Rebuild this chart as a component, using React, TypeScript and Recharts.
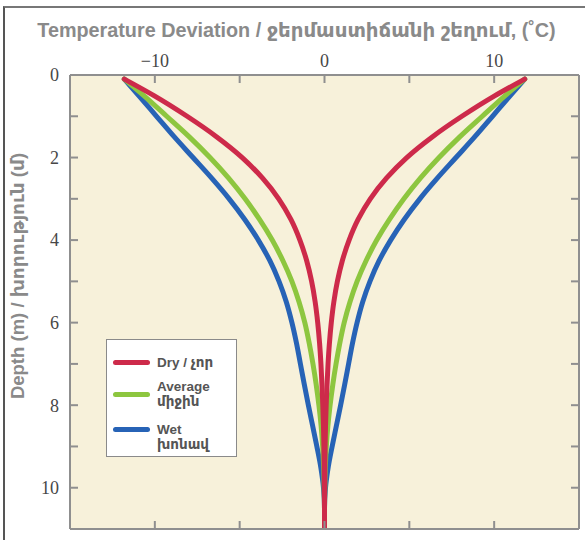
import React from 'react';
import { LineChart, Line, XAxis, YAxis, CartesianGrid, Legend } from 'recharts';

const depth = [0.1, 0.5, 1, 1.5, 2, 2.5, 3, 3.5, 4, 4.5, 5, 5.5, 6, 6.5, 7, 7.5, 8, 8.5, 9, 9.5, 10, 10.5, 11];
const dryRight = [11.8, 10.05, 8.1, 6.35, 4.85, 3.65, 2.7, 1.98, 1.45, 1.05, 0.76, 0.55, 0.4, 0.29, 0.21, 0.15, 0.1, 0.06, 0.035, 0.02, 0.01, 0, 0];
const dryLeft = [-11.8, -10.05, -8.1, -6.35, -4.85, -3.65, -2.7, -1.98, -1.45, -1.05, -0.76, -0.55, -0.4, -0.29, -0.21, -0.15, -0.1, -0.06, -0.035, -0.02, -0.01, 0, 0];
const avgRight = [11.8, 10.65, 9.3, 7.97, 6.75, 5.65, 4.68, 3.83, 3.08, 2.45, 1.92, 1.5, 1.16, 0.9, 0.68, 0.49, 0.33, 0.2, 0.11, 0.05, 0.02, 0, 0];
const avgLeft = [-11.8, -10.65, -9.3, -7.97, -6.75, -5.65, -4.68, -3.83, -3.08, -2.45, -1.92, -1.5, -1.16, -0.9, -0.68, -0.49, -0.33, -0.2, -0.11, -0.05, -0.02, 0, 0];
const wetRight = [11.8, 10.95, 9.9, 8.85, 7.75, 6.65, 5.62, 4.7, 3.9, 3.22, 2.68, 2.25, 1.92, 1.65, 1.42, 1.19, 0.95, 0.7, 0.45, 0.22, 0.06, 0, 0];
const wetLeft = [-11.8, -10.95, -9.9, -8.85, -7.75, -6.65, -5.62, -4.7, -3.9, -3.22, -2.68, -2.25, -1.92, -1.65, -1.42, -1.19, -0.95, -0.7, -0.45, -0.22, -0.06, 0, 0];

const xTicks = [-10, -5, 0, 5, 10];
const xLabels = [-10, 0, 10];
const yTicks = [0, 1, 2, 3, 4, 5, 6, 7, 8, 9, 10];
const yLabels = [0, 2, 4, 6, 8, 10];

const seriesNames = ['Dry / չոր', 'Average|միջին', 'Wet|խոնավ'];
const titleText = 'Temperature Deviation / ջերմաստիճանի շեղում, (˚C)';
const yTitle = 'Depth (m) / խորություն (մ)';

const RED = '#CD2A4A';
const GREEN = '#8DC63F';
const BLUE = '#2763B6';
const AXIS = '#8f8f8f';
const BG = '#F7F1DA';

const data = depth.map((d, i) => ({
  d,
  dryL: dryLeft[i], dryR: dryRight[i],
  avgL: avgLeft[i], avgR: avgRight[i],
  wetL: wetLeft[i], wetR: wetRight[i],
}));

const tickFont = { fontFamily: '"Liberation Serif", "Times New Roman", serif', fontSize: 18, fill: '#474747' };
const sansBold = '"Liberation Sans", Arial, "DejaVu Sans", sans-serif';

const legendItems = [
  { name: seriesNames[0], color: RED, mb: 9, align: 'center', lineTop: 0 },
  { name: seriesNames[1], color: GREEN, mb: 13, align: 'center', lineTop: 0 },
  { name: seriesNames[2], color: BLUE, mb: 0, align: 'flex-start', lineTop: 5 },
];

const LegendBox = () => (
  <div style={{ width: 131, height: 118, boxSizing: 'border-box', background: '#fff', border: '1.5px solid #8a8a8a', padding: '15px 0 0 6px', fontFamily: sansBold, fontWeight: 700, fontSize: 13.5, color: '#555', lineHeight: '15px' }}>
    {legendItems.map((it) => {
      const parts = it.name.split('|');
      return (
        <div key={it.name} style={{ display: 'flex', alignItems: it.align, marginBottom: it.mb }}>
          <div style={{ width: 37, height: 5, borderRadius: 3, background: it.color, marginRight: 7, marginTop: it.lineTop, flex: 'none' }} />
          <div>
            {parts.map((p) => (<div key={p}>{p}</div>))}
          </div>
        </div>
      );
    })}
  </div>
);

export default function App() {
  return (
    <div style={{ position: 'absolute', left: 0, top: 0, width: 585, height: 540, background: '#fff', overflow: 'hidden' }}>
      <div style={{ position: 'absolute', left: 3, top: 6, width: 700, height: 700, borderLeft: '2px solid #555', borderTop: '2px solid #777' }} />
      <div style={{ position: 'absolute', left: 4, top: 19, width: 585, textAlign: 'center', fontFamily: sansBold, fontWeight: 700, fontSize: 19.8, color: '#8a8a8a', whiteSpace: 'nowrap' }}>
        {titleText}
      </div>
      <div style={{ position: 'absolute', left: 18, top: 276, width: 0, height: 0 }}>
        <div style={{ position: 'absolute', transform: 'translate(-50%, -50%) rotate(-90deg)', fontFamily: sansBold, fontWeight: 700, fontSize: 18.5, color: '#8a8a8a', whiteSpace: 'nowrap' }}>
          {yTitle}
        </div>
      </div>
      <div style={{ position: 'absolute', left: 0, top: 0 }}>
        <LineChart layout="vertical" width={585} height={540} data={data} margin={{ top: 0, right: 0, bottom: 0, left: 0 }}>
          <CartesianGrid horizontal={false} vertical={false} fill={BG} xAxisId="top" yAxisId="left" />
          <XAxis xAxisId="top" orientation="top" type="number" domain={[-15, 15]} ticks={xTicks} height={75}
            axisLine={{ stroke: AXIS, strokeWidth: 2 }} tickLine={{ stroke: AXIS, strokeWidth: 2 }} tickSize={-8} tickMargin={16}
            tick={tickFont} tickFormatter={(v: number) => (xLabels.includes(v) ? (v < 0 ? '−' + Math.abs(v) : String(v)) : '')}
            allowDataOverflow interval={0} />
          <XAxis xAxisId="bottom" orientation="bottom" type="number" domain={[-15, 15]} ticks={xTicks} height={11}
            axisLine={{ stroke: AXIS, strokeWidth: 2 }} tickLine={{ stroke: AXIS, strokeWidth: 2 }} tickSize={-8}
            tickFormatter={() => ''} allowDataOverflow interval={0} />
          <YAxis yAxisId="left" orientation="left" type="number" dataKey="d" domain={[0, 11]} ticks={yTicks} width={70}
            axisLine={{ stroke: AXIS, strokeWidth: 2 }} tickLine={{ stroke: AXIS, strokeWidth: 2 }} tickSize={-8} tickMargin={19}
            tick={tickFont} tickFormatter={(v: number) => (yLabels.includes(v) ? String(v) : '')}
            allowDataOverflow interval={0} />
          <YAxis yAxisId="right" orientation="right" type="number" dataKey="d" domain={[0, 11]} ticks={yTicks} width={6}
            axisLine={{ stroke: AXIS, strokeWidth: 2 }} tickLine={{ stroke: AXIS, strokeWidth: 2 }} tickSize={-8}
            tickFormatter={() => ''} allowDataOverflow interval={0} />
          <Line xAxisId="bottom" yAxisId="right" type="monotone" dataKey="wetL" stroke={BLUE} strokeWidth={5} dot={false} isAnimationActive={false} legendType="none" strokeLinecap="round" />
          <Line xAxisId="bottom" yAxisId="right" type="monotone" dataKey="wetR" stroke={BLUE} strokeWidth={5} dot={false} isAnimationActive={false} legendType="none" strokeLinecap="round" />
          <Line xAxisId="top" yAxisId="left" type="monotone" dataKey="avgL" stroke={GREEN} strokeWidth={5} dot={false} isAnimationActive={false} legendType="none" strokeLinecap="round" />
          <Line xAxisId="top" yAxisId="left" type="monotone" dataKey="avgR" stroke={GREEN} strokeWidth={5} dot={false} isAnimationActive={false} legendType="none" strokeLinecap="round" />
          <Line xAxisId="top" yAxisId="left" type="monotone" dataKey="dryL" stroke={RED} strokeWidth={5} dot={false} isAnimationActive={false} legendType="none" strokeLinecap="round" />
          <Line xAxisId="top" yAxisId="left" type="monotone" dataKey="dryR" stroke={RED} strokeWidth={5} dot={false} isAnimationActive={false} legendType="none" strokeLinecap="round" />
          <Legend layout="vertical" align="center" verticalAlign="middle" content={() => <LegendBox />}
            wrapperStyle={{ position: 'absolute', left: 106, top: 339, width: 131, height: 118 }} />
        </LineChart>
      </div>
    </div>
  );
}
